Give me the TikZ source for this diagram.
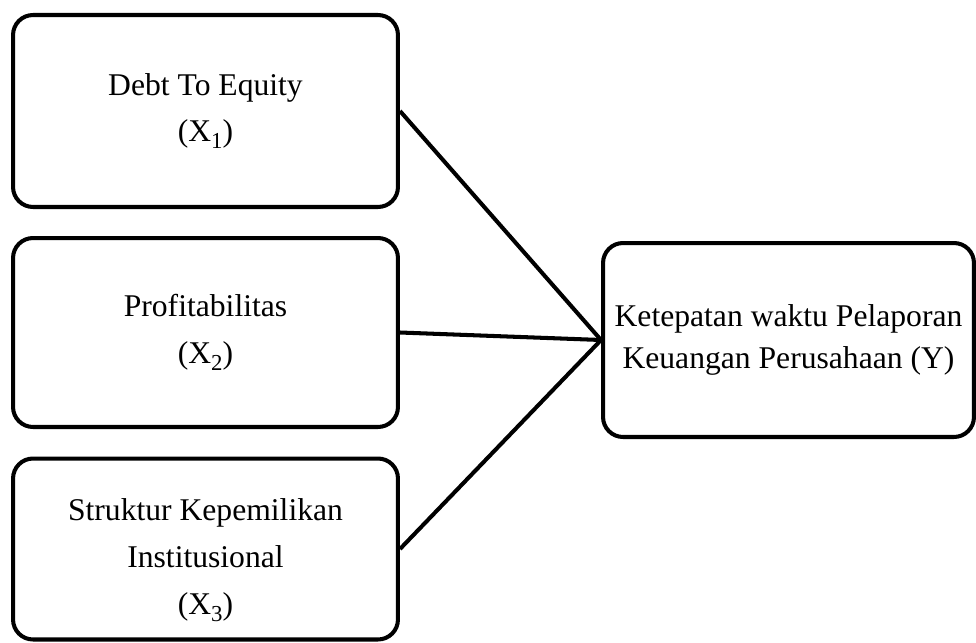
\documentclass[tikz,border=0pt]{standalone}
\usepackage{fontspec}
\setmainfont{Liberation Serif}
\usetikzlibrary{positioning}
\newcommand{\subidx}[1]{\raisebox{-0.22em}{\fontsize{13}{13}\selectfont #1}}

\begin{document}
\begin{tikzpicture}[x=0.02cm,y=-0.02cm,line width=2.3pt,var node/.style={rectangle,rounded corners=0.4cm,draw,align=center,minimum width=7.7cm,font=\fontsize{18}{26.7}\selectfont},dep node/.style={var node,minimum width=7.42cm,minimum height=3.88cm,font=\fontsize{18}{23.8}\selectfont}]
	\useasboundingbox (0,0) rectangle (976,642);
	\node[var node,minimum height=3.84cm] (1) at (205.5,111) {Debt To Equity\\(X\subidx{1})};
	\node[var node,minimum height=3.78cm] (2) at (205.5,332.5) {Profitabilitas\\(X\subidx{2})};
	\node[var node,minimum height=3.62cm] (3) at (205.5,549) {\rule{0pt}{25pt}Struktur Kepemilikan\\Institusional\\(X\subidx{3})};
	\node[dep node] (4) at (788.5,340) {Ketepatan waktu Pelaporan\\Keuangan Perusahaan (Y)};

	\path
		(1.east) edge (4.west)
		(2.east) edge (4.west)
		(3.east) edge (4.west);
\end{tikzpicture}
\end{document}
